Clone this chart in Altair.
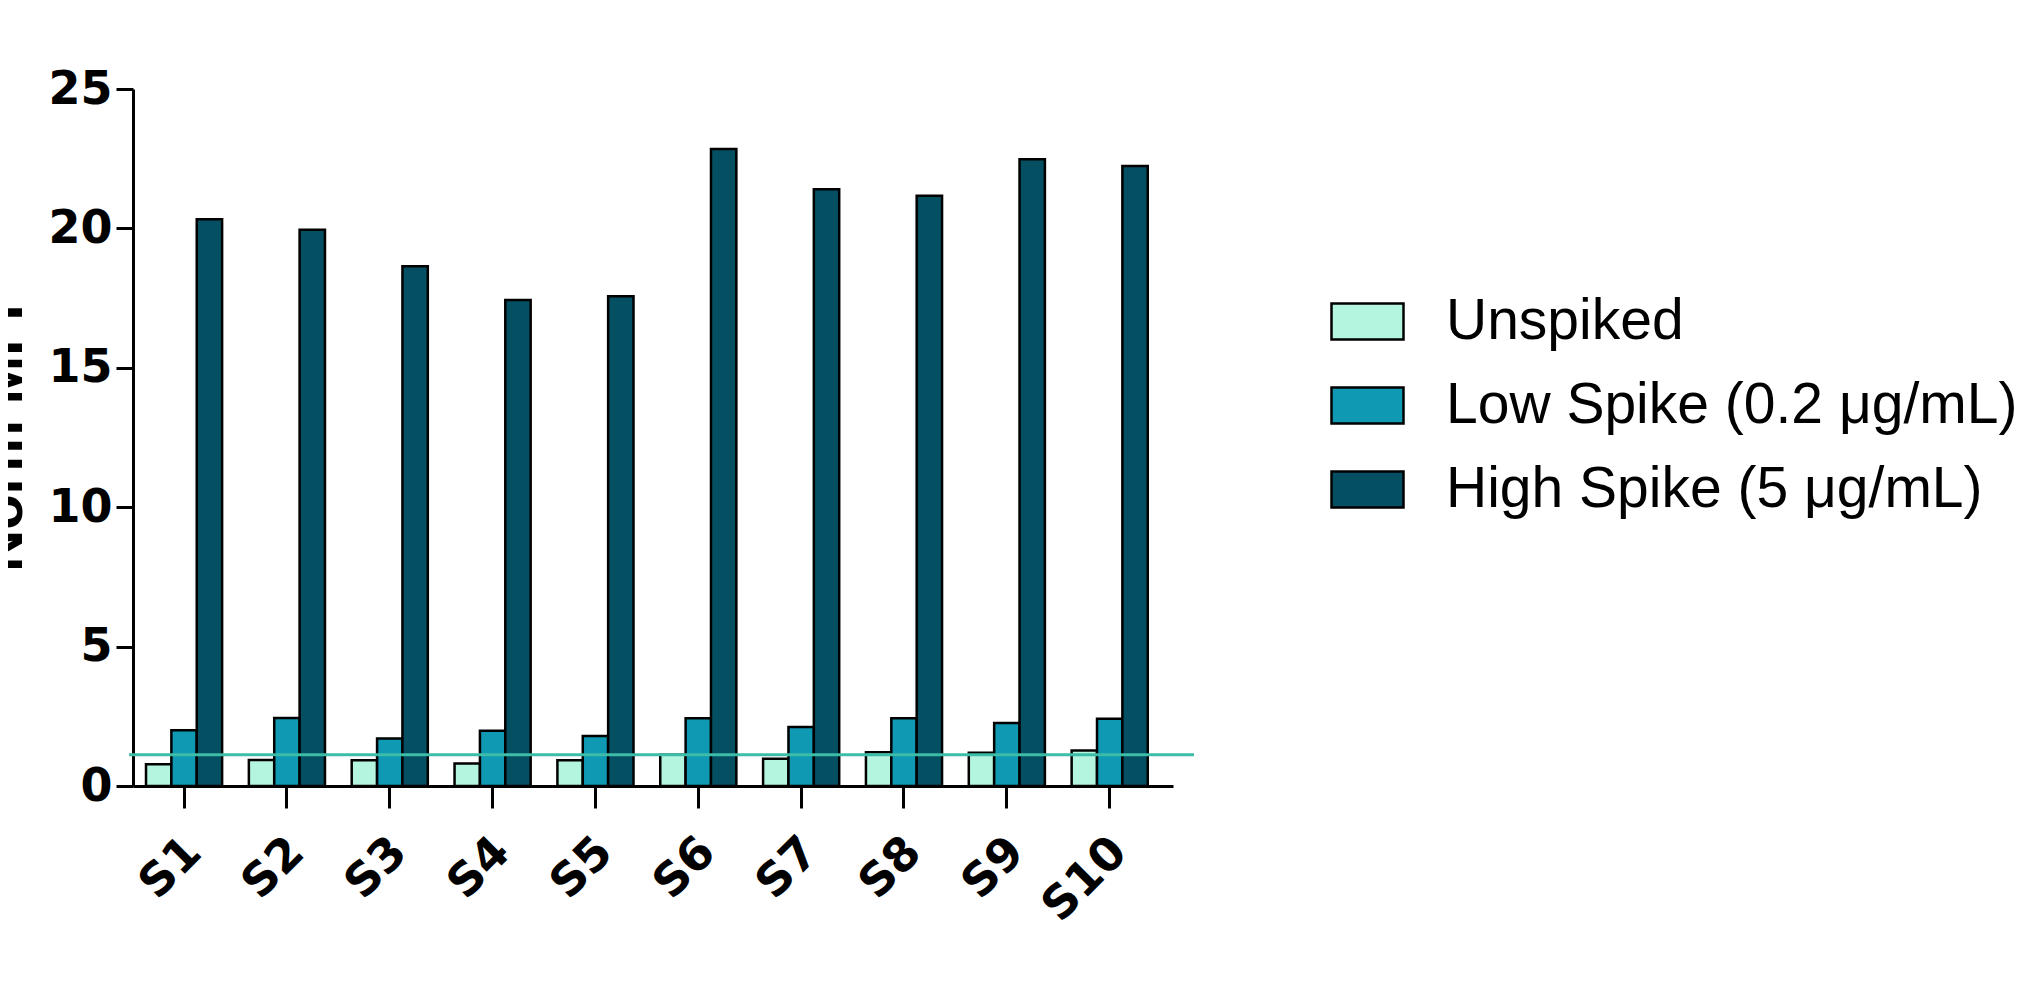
import altair as alt
import pandas as pd

samples = ["S1", "S2", "S3", "S4", "S5", "S6", "S7", "S8", "S9", "S10"]
groups = ["Unspiked", "Low Spike (0.2 \u03bcg/mL)", "High Spike (5 \u03bcg/mL)"]
unspiked = [0.78, 0.93, 0.92, 0.81, 0.92, 1.12, 0.98, 1.21, 1.19, 1.27]
low_spike = [2.0, 2.44, 1.70, 1.98, 1.79, 2.43, 2.12, 2.43, 2.26, 2.41]
high_spike = [20.33, 19.95, 18.64, 17.43, 17.57, 22.85, 21.40, 21.17, 22.48, 22.24]
colors = ["#b3f5df", "#0f99b3", "#054f63"]
baseline = 1.12
y_ticks = [0, 5, 10, 15, 20, 25]

rows = []
for g, vals in zip(groups, [unspiked, low_spike, high_spike]):
    for s, v in zip(samples, vals):
        rows.append({"sample": s, "group": g, "value": v})
df = pd.DataFrame(rows)

W, H = 1040, 697

bars = alt.Chart(df).mark_bar(stroke="black", strokeWidth=2.5).encode(
    x=alt.X("sample:N", sort=samples,
            scale=alt.Scale(paddingInner=0.26, paddingOuter=0.186, align=0.34),
            axis=alt.Axis(title=None, labelAngle=315, labelAlign="right",
                          labelBaseline="top", labelPadding=21, labelOffset=-6, tickSize=22)),
    xOffset=alt.XOffset("group:N", sort=groups, scale=alt.Scale(paddingInner=0, paddingOuter=0)),
    y=alt.Y("value:Q", scale=alt.Scale(domain=[0, 25], nice=False),
            axis=alt.Axis(title="Norm MFI", values=y_ticks, tickSize=17, labelPadding=4,
                          titleFont="Liberation Sans", titleFontSize=58, titleFontWeight="bold",
                          titleAngle=270, titleX=-112, titleY=H / 2, titleAlign="center",
                          titleBaseline="alphabetic", grid=False)),
    fill=alt.Fill("group:N", sort=groups,
                  scale=alt.Scale(domain=groups, range=colors),
                  legend=alt.Legend(title=None, orient="none", legendX=1197, legendY=195,
                                    symbolType="M-1,-0.5H1V0.5H-1Z", symbolSize=5184,
                                    symbolStrokeColor="black", symbolStrokeWidth=2.5,
                                    labelFont="Liberation Sans", labelFontSize=57,
                                    labelFontWeight="normal", labelColor="black",
                                    labelOffset=41, labelLimit=900, rowPadding=18,
                                    padding=0)),
)

line = alt.Chart(pd.DataFrame({"v": [baseline]})).mark_rule(color="#3dbda7", strokeWidth=3).encode(
    y="v:Q", x=alt.value(-4), x2=alt.value(W + 21)
)

chart = alt.layer(bars, line).properties(
    width=W, height=H,
    autosize=alt.AutoSizeParams(type="none"),
    padding={"left": 125, "top": 81, "right": 860, "bottom": 160},
).configure_view(stroke=None).configure_axis(
    domainColor="black", domainWidth=3, tickColor="black", tickWidth=3,
    labelFont="DejaVu Sans", labelFontWeight="bold", labelFontSize=46, labelColor="black",
    titleColor="black",
)

chart.save("out.html", embed_options={"renderer": "svg", "actions": False})
